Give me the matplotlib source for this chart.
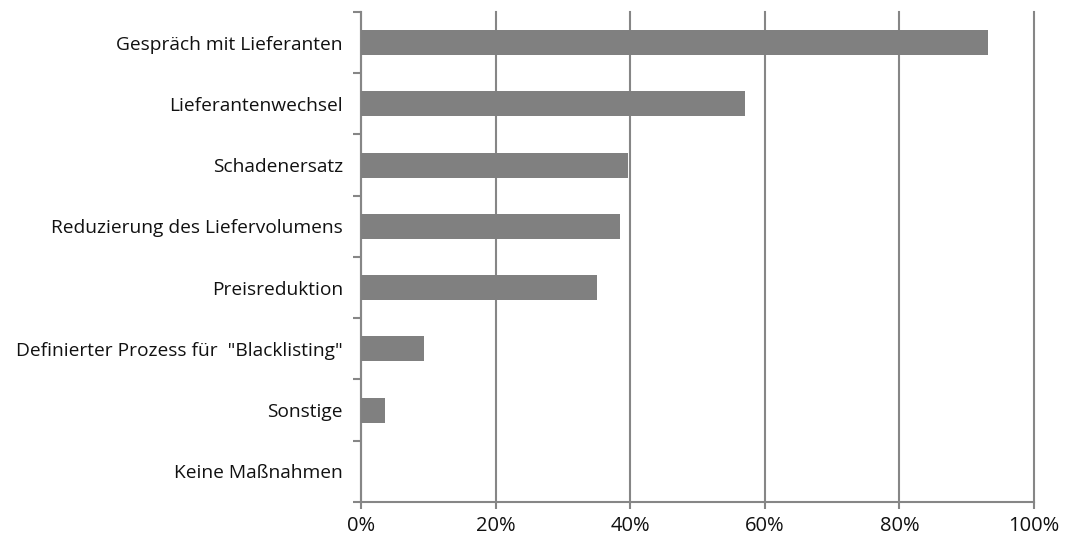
import matplotlib.pyplot as plt
import numpy as np

# Kategorien (von oben nach unten) und Anteile in Prozent
kategorien = [
    'Gespräch mit Lieferanten',
    'Lieferantenwechsel',
    'Schadenersatz',
    'Reduzierung des Liefervolumens',
    'Preisreduktion',
    'Definierter Prozess für  "Blacklisting"',
    'Sonstige',
    'Keine Maßnahmen',
]
werte = [93.1, 57.0, 39.6, 38.5, 35.0, 9.4, 3.5, 0.0]
x_ticks = [0, 20, 40, 60, 80, 100]

plt.rcParams['font.family'] = ['Open Sans', 'DejaVu Sans']

fig = plt.figure(figsize=(10.78, 5.37), dpi=100)
ax = fig.add_axes([0.3349, 0.0652, 0.6243, 0.9125])

n = len(kategorien)
y = np.arange(n)
ax.barh(y, werte, height=0.41, color='#808080', zorder=3)

ax.set_xlim(0, 100)
ax.set_ylim(n - 0.5, -0.5)

# Gitterlinien
ax.set_xticks(x_ticks)
ax.set_xticklabels([f'{t}%' for t in x_ticks], fontsize=14.5, color='#111111')
ax.grid(axis='x', color='#868686', linewidth=1.5, zorder=1)
for gl in ax.get_xgridlines():
    gl.set_clip_on(False)

# Y-Achse: Beschriftungen in der Mitte, Ticks an den Grenzen
ax.set_yticks(y)
ax.set_yticklabels(kategorien, fontsize=13.8, color='#111111')
ax.tick_params(axis='y', length=0, pad=13)
ax.set_yticks(np.arange(n + 1) - 0.5, minor=True)
ax.tick_params(axis='y', which='minor', length=6, width=1.5, color='#868686')
ax.tick_params(axis='x', length=5, width=1.5, color='#868686', pad=5)

for s in ['top', 'right']:
    ax.spines[s].set_visible(False)
for s in ['left', 'bottom']:
    ax.spines[s].set_color('#868686')
    ax.spines[s].set_linewidth(1.5)

fig.savefig('out.png', dpi=100)
